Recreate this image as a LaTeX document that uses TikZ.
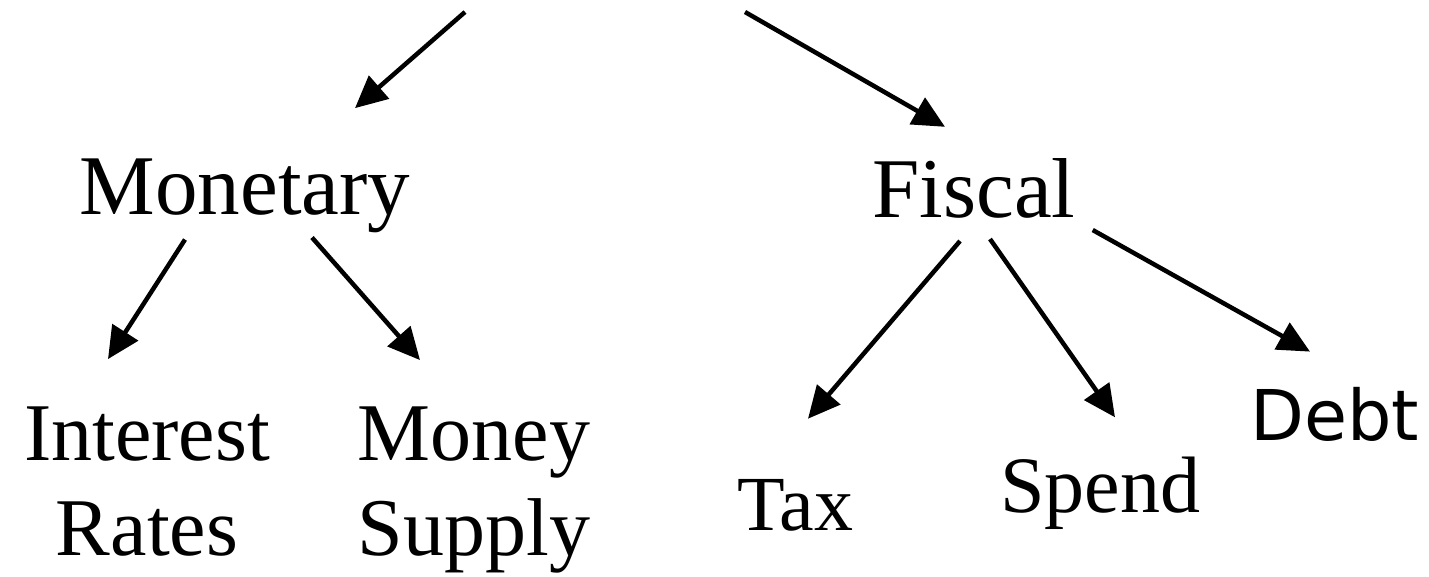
\documentclass[tikz,border=0pt]{standalone}
\usepackage{fontspec}
\setmainfont{Liberation Serif}
\newfontfamily\debtfont{DejaVu Sans}
\usetikzlibrary{arrows.meta}
\begin{document}
\begin{tikzpicture}[x=1pt,y=-1pt,
  lbl/.style={inner sep=0pt, anchor=base, align=center},
  arr/.style={line width=4.5pt, -{Triangle[length=32pt,width=30pt]}}]
\useasboundingbox (0,0) rectangle (1429,577);
\coordinate (tl) at (465,12);
\coordinate (tr) at (745,12);
\node[lbl, font=\fontsize{85}{95}\selectfont] (mon) at (245,215) {Monetary};
\node[lbl, font=\fontsize{85}{95}\selectfont] (fis) at (974,218) {Fiscal};
% base of a two-line node is its last line
\node[lbl, font=\fontsize{82}{95}\selectfont] (ir) at (147,555) {Interest\\Rates};
\node[lbl, font=\fontsize{82}{95}\selectfont] (ms) at (474,555) {Money\\Supply};
\node[lbl, font=\fontsize{78}{90}\selectfont] (tax) at (795,530) {Tax};
\node[lbl, font=\fontsize{80}{90}\selectfont] (sp) at (1100,512) {Spend};
\node[lbl, font=\debtfont\fontsize{70}{80}\selectfont] (debt) at (1335,440) {Debt};
\draw[arr] (tl) -- ([shift={(110,-51)}]mon.north);
\draw[arr] (tr) -- ([shift={(-29,-32)}]fis.north);
\draw[arr] ([shift={(-60,6)}]mon.south) -- ([shift={(-39,-47)}]ir.north);
\draw[arr] ([shift={(67,4)}]mon.south) -- ([shift={(-54,-46)}]ms.north);
\draw[arr] ([shift={(-14,22)}]fis.south) -- ([shift={(13,-60)}]tax.north);
\draw[arr] ([shift={(16,20)}]fis.south) -- ([shift={(15,-39)}]sp.north);
\draw[arr] ([shift={(17,11)}]fis.south east) -- ([shift={(-25,-35)}]debt.north);
\end{tikzpicture}
\end{document}
